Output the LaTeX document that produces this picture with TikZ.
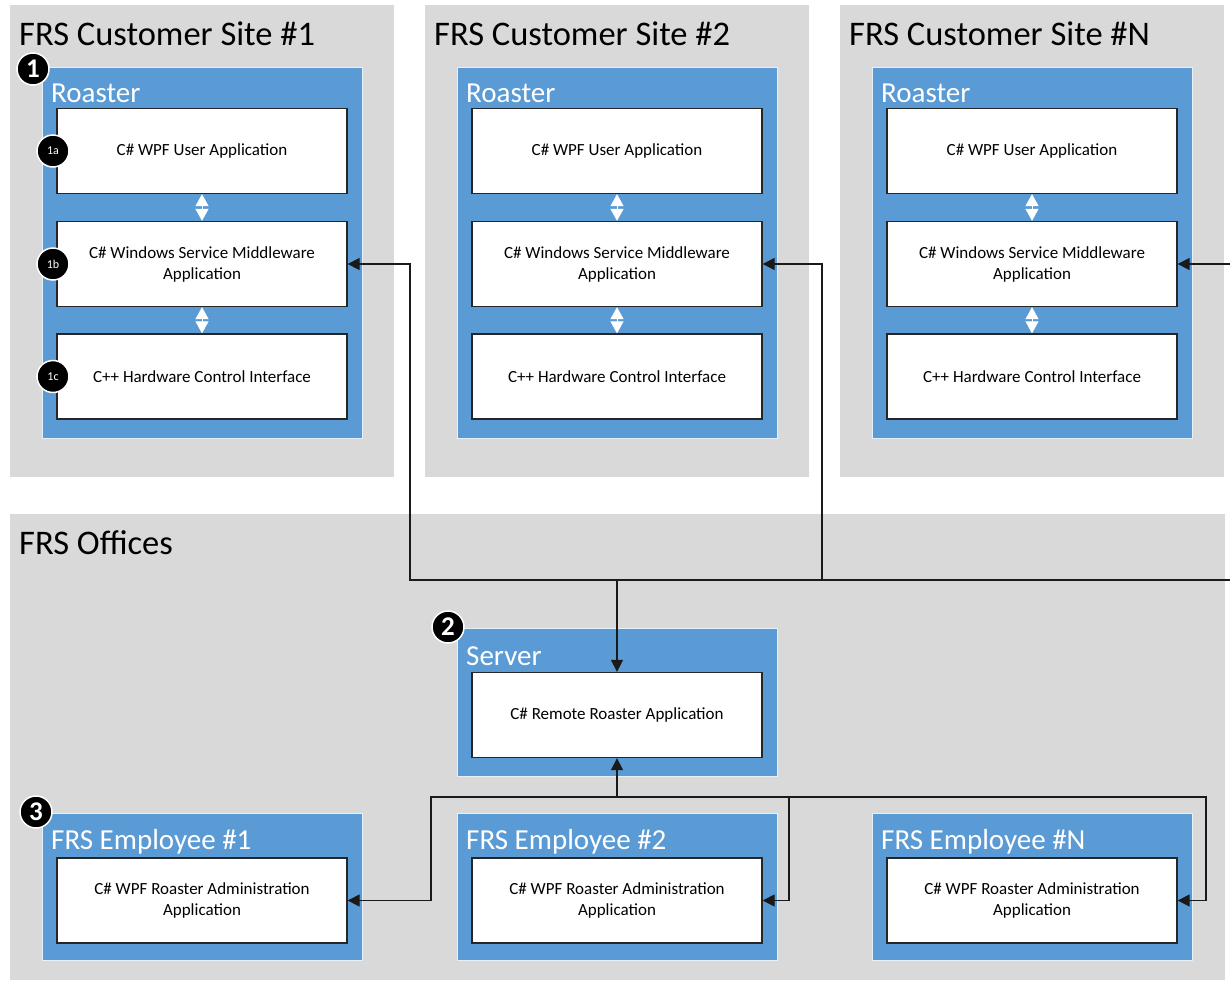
\documentclass[tikz,border=0pt]{standalone}
\usepackage{fontspec}
\setmainfont{Carlito}
\usepackage{xcolor}
\definecolor{panelgray}{HTML}{D9D9D9}
\definecolor{hostblue}{HTML}{5B9BD5}
\definecolor{wireink}{HTML}{1A1A1A}
\usepackage{tikz}
\usetikzlibrary{positioning,arrows.meta}

\begin{document}
\begin{tikzpicture}[x=1pt, y=-1pt,
    panel/.style={rectangle, fill=panelgray, draw=none, inner sep=0pt},
    host/.style={rectangle, fill=hostblue, draw=white!85!hostblue, line width=1pt, inner sep=0pt,
      minimum width=320},
    app/.style={rectangle, fill=white, draw=black!85, line width=1.3pt, align=center,
      minimum width=290, minimum height=85, inner sep=2pt, font=\fontsize{17}{21}\selectfont},
    sitetitle/.style={anchor=base west, inner sep=0pt, font=\fontsize{34.5}{40}\selectfont},
    hosttitle/.style={anchor=base west, inner sep=0pt, text=white, font=\fontsize{29}{34}\selectfont},
    badge/.style={circle, fill=black, draw=white, line width=1.5pt, minimum size=32, inner sep=0pt,
      text=white, font=\fontsize{27}{30}\selectfont\bfseries},
    subbadge/.style={badge, font=\fontsize{12}{14}\selectfont},
    link/.style={draw=white, line width=1pt, {Triangle[length=12pt,width=13pt]}-{Triangle[length=12pt,width=13pt]}},
    wire/.style={draw=wireink, line width=1.3pt, -{Triangle[length=12pt,width=12pt]}}]
  \useasboundingbox (0,0) rectangle (1230,980);
  \clip (0,0) rectangle (1230,980);

  % customer sites, one roaster each
  \foreach \s/\x in {1/0, 2/415, N/830} {
    \begin{scope}[xshift=\x pt]
      \node[panel, minimum width=384, minimum height=472] (site\s) at (202, 241) {};
      \node[sitetitle] (sitelbl\s) at (19, 45) {FRS Customer Site \#\s};
      \node[host, minimum height=371] (roaster\s) at (202, 252.5) {};
      \node[hosttitle] (roasterlbl\s) at (51, 102) {Roaster};
      \node[app] (wpf\s) at (202, 151) {C\# WPF User Application};
      \node[app] (mid\s) at (202, 264) {C\# Windows Service Middleware\\Application};
      \node[app] (hw\s) at (202, 376.5) {C++ Hardware Control Interface};
      \draw[link] (wpf\s.south) -- (mid\s.north);
      \draw[link] (mid\s.south) -- (hw\s.north);
    \end{scope}
  }
  \node[badge] (b1) at (33, 69) {1};
  \node[subbadge] (b1a) at (53, 151) {1a};
  \node[subbadge] (b1b) at (53, 264) {1b};
  \node[subbadge] (b1c) at (53, 376.5) {1c};

  % offices: server and employee machines
  \node[panel, minimum width=1215, minimum height=466] (offices) at (617.5, 747) {};
  \node[sitetitle] (officeslbl) at (19, 554) {FRS Offices};
  \node[host, minimum height=148] (server) at (617, 702) {};
  \node[hosttitle] (serverlbl) at (466, 665) {Server};
  \node[app] (remote) at (617, 715) {C\# Remote Roaster Application};
  \node[badge] (b2) at (448, 627) {2};

  \foreach \e/\x in {1/0, 2/415, N/830} {
    \begin{scope}[xshift=\x pt]
      \node[host, minimum height=147] (emp\e) at (202, 886.5) {};
      \node[hosttitle] (emplbl\e) at (51, 849) {FRS Employee \#\e};
      \node[app] (adm\e) at (202, 900.5) {C\# WPF Roaster Administration\\Application};
    \end{scope}
  }
  \node[badge] (b3) at (36, 812) {3};

  % remote links from the server to every middleware
  \coordinate (tap) at (617, 580);
  \coordinate (busL) at (410, 580);
  \coordinate (busR) at (822, 580);
  \coordinate (busE) at (1240, 580);
  \draw[wire] (tap) -- (remote.north);
  \draw[wire] (tap) -- (busL) |- (mid1.east);
  \draw[wire] (tap) -- (busR) |- (mid2.east);
  \draw[wire] (busR) -- (busE) |- (midN.east);

  % employee clients
  \coordinate (hub) at (617, 797);
  \coordinate (hubL) at (431, 797);
  \coordinate (hubR) at (789, 797);
  \coordinate (hubE) at (1206, 797);
  \draw[wire] (hub) -- (remote.south);
  \draw[wire] (hub) -- (hubL) |- (adm1.east);
  \draw[wire] (hub) -- (hubR) |- (adm2.east);
  \draw[wire] (hubR) -- (hubE) |- (admN.east);
\end{tikzpicture}
\end{document}
